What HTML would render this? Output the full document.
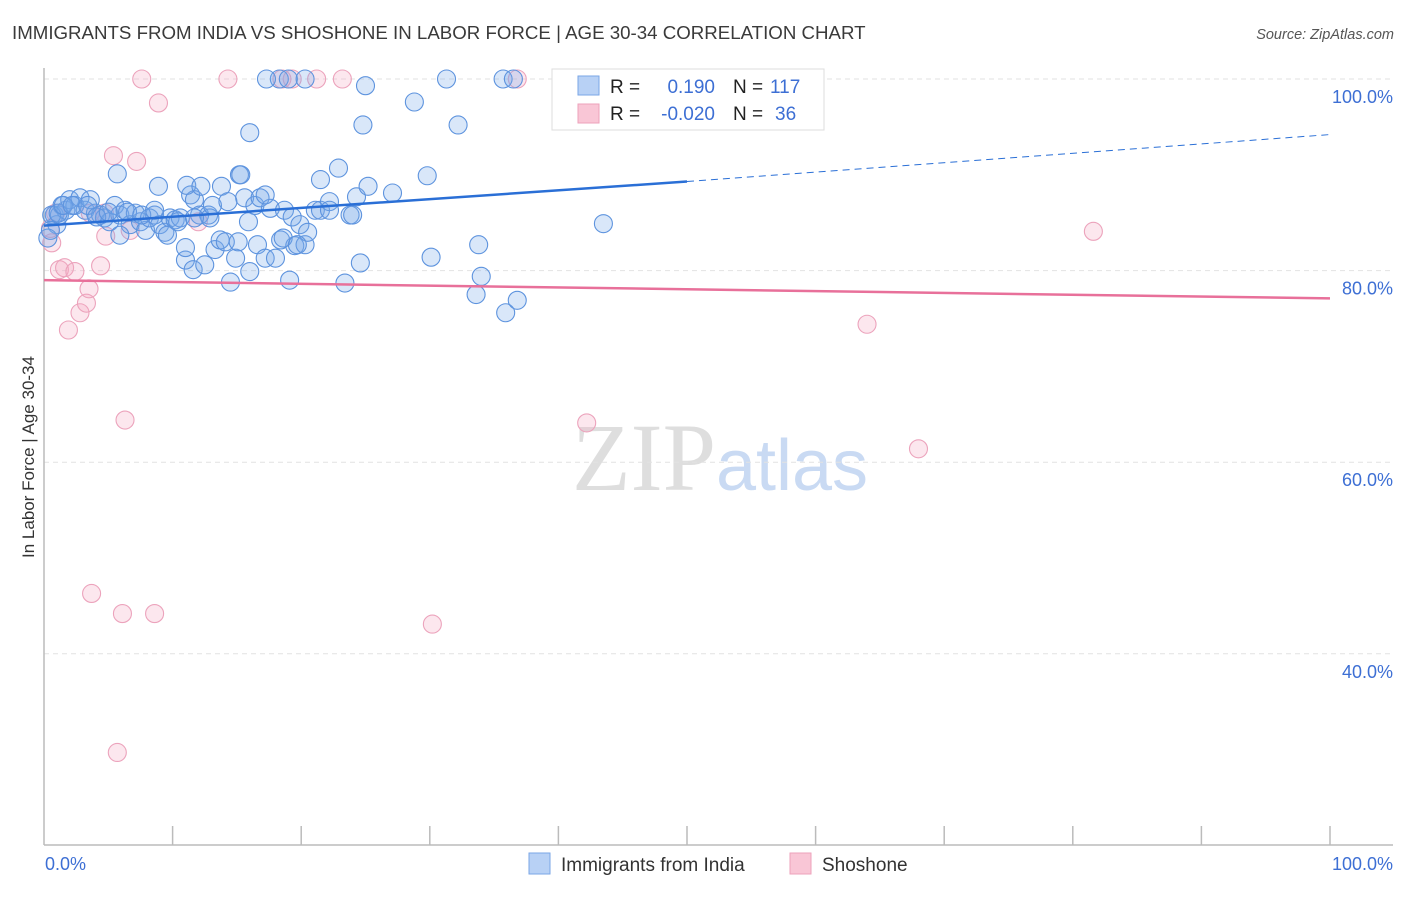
<!DOCTYPE html>
<html><head><meta charset="utf-8"><style>
body{margin:0;background:#fff;font-family:"Liberation Sans",sans-serif}
svg text{font-family:"Liberation Sans",sans-serif}
</style></head><body>
<svg id="chart" width="1406" height="892" viewBox="0 0 1406 892" xmlns="http://www.w3.org/2000/svg">
<text x="12" y="39" font-size="18.7" fill="#3a3a3a">IMMIGRANTS FROM INDIA VS SHOSHONE IN LABOR FORCE | AGE 30-34 CORRELATION CHART</text>
<text x="1394" y="39" font-size="14.5" fill="#555" text-anchor="end" font-style="italic">Source: ZipAtlas.com</text>
<text x="720" y="490" font-size="96" text-anchor="middle"><tspan fill="#dedede" font-family="Liberation Serif">ZIP</tspan><tspan fill="#c9daf3" font-size="72">atlas</tspan></text>
<g id="grid"></g>
<g id="axes"></g>
<g id="pts"></g>
<g id="trend"></g>
<text transform="translate(34,457) rotate(-90)" font-size="17" fill="#333" text-anchor="middle">In Labor Force | Age 30-34</text>
<g>
<rect x="552" y="69" width="272" height="61" fill="#fff" stroke="#ddd"/>
<rect x="578" y="76" width="21" height="19" fill="#b8d1f5" stroke="#7aa6e6"/>
<rect x="578" y="104" width="21" height="19" fill="#f9c6d6" stroke="#eda2bb"/>
<text x="610" y="93" font-size="19" fill="#222">R =</text>
<text x="715" y="93" font-size="19" fill="#3d6fd4" text-anchor="end">0.190</text>
<text x="733" y="93" font-size="19" fill="#222">N =</text>
<text x="770" y="93" font-size="19" fill="#3d6fd4">117</text>
<text x="610" y="120" font-size="19" fill="#222">R =</text>
<text x="715" y="120" font-size="19" fill="#3d6fd4" text-anchor="end">-0.020</text>
<text x="733" y="120" font-size="19" fill="#222">N =</text>
<text x="775" y="120" font-size="19" fill="#3d6fd4">36</text>
</g>
<g>
<rect x="529" y="853" width="21" height="21" fill="#b8d1f5" stroke="#7aa6e6"/>
<text x="561" y="871" font-size="19" fill="#333">Immigrants from India</text>
</g>
<g>
<rect x="790" y="853" width="21" height="21" fill="#f9c6d6" stroke="#eda2bb"/>
<text x="822" y="871" font-size="19" fill="#333">Shoshone</text>
</g>
</svg>
<script>
const yTicks=[100,80,60,40];
const yTickLabels=["100.0%","80.0%","60.0%","40.0%"];
const xTickLabels=["0.0%","100.0%"];
const blueX=[0.8,1.0,1.2,1.4,1.7,2.0,2.4,2.8,3.2,3.6,4.0,4.4,4.7,5.1,5.5,5.9,6.3,6.7,7.1,7.5,7.9,8.2,8.6,9.0,9.4,9.8,10.2,10.6,11.0,11.0,11.4,11.6,11.7,12.1,12.5,12.8,12.9,13.3,13.7,14.1,14.5,14.9,15.1,15.2,15.6,16.0,16.4,16.6,16.8,17.2,17.6,18.0,18.4,18.7,19.1,19.3,19.5,19.9,20.3,20.5,21.1,21.5,22.2,22.9,23.4,23.8,24.3,24.6,24.8,25.0,25.2,27.1,28.8,29.8,30.1,31.3,32.2,33.6,33.8,34.0,35.7,35.9,36.5,36.8,43.5,5.7,8.9,11.1,12.2,13.8,16.0,18.3,20.3,19.0,15.3,17.3,0.6,1.1,0.3,0.5,1.5,2.2,3.4,4.1,5.0,5.9,6.5,7.6,8.6,9.6,10.4,11.7,13.1,14.3,15.9,17.2,18.6,19.7,21.5,22.2,24.0];
const blueY=[85.8,84.8,85.8,86.8,86.3,87.4,86.8,87.6,86.3,87.4,86.0,85.8,85.5,85.1,86.8,85.8,86.3,84.8,86.0,85.1,84.2,85.5,85.8,84.8,84.0,85.5,85.3,85.5,81.1,82.4,87.9,80.1,87.4,85.8,80.6,85.8,85.5,82.2,83.2,83.0,78.8,81.3,83.0,90.0,87.6,79.9,86.8,82.7,87.6,81.3,86.5,81.3,83.2,86.3,79.0,85.6,82.6,84.8,82.7,84.0,86.3,86.3,87.2,90.7,78.7,85.8,87.7,80.8,95.2,99.3,88.8,88.1,97.6,89.9,81.4,100,95.2,77.5,82.7,79.4,100,75.6,100,76.9,84.9,90.1,88.8,88.9,88.8,88.8,94.4,100,100,100,90.0,100,85.8,86.0,83.4,84.2,86.8,86.8,86.8,85.6,86.1,83.7,86.1,85.8,86.3,83.7,85.1,85.5,86.8,87.2,85.1,87.9,83.4,82.7,89.5,86.3,85.8];
const pinkX=[0.6,0.5,0.9,1.2,1.6,1.9,2.4,2.8,3.3,3.5,4.4,4.8,5.4,6.3,6.7,7.2,7.6,8.9,8.6,5.7,3.7,6.1,12.0,14.3,18.5,19.3,21.2,23.2,30.2,36.8,42.2,64.0,68.0,81.6,4.7,3.6];
const pinkY=[82.9,84.4,86.0,80.1,80.3,73.8,79.9,75.6,76.6,78.1,80.5,83.6,92.0,64.4,84.2,91.4,100,97.5,44.2,29.7,46.3,44.2,85.1,100,100,100,100,100,43.1,100,64.1,74.4,61.4,84.1,86.0,86.0];
const blueTrend=[84.7,89.3,94.2];
const pinkTrend=[79.0,77.1];
const X0=44,X1=1330,Y100=79,PPU=9.58;
const xs=p=>X0+p*(X1-X0)/100;
const ys=v=>Y100+(100-v)*PPU;
const NS="http://www.w3.org/2000/svg";
function mk(tag,attrs,parent,txt){const e=document.createElementNS(NS,tag);for(const k in attrs)e.setAttribute(k,attrs[k]);if(txt!==undefined)e.textContent=txt;document.getElementById(parent).appendChild(e);return e;}
yTicks.forEach((t,i)=>{
 const g=mk('line',{x1:X0,x2:1393,y1:ys(t),y2:ys(t),stroke:'#e2e2e2','stroke-dasharray':'5,4'},'grid');
 
 
 const l=mk('text',{x:1393,y:ys(t)+24,'font-size':18,fill:'#3d6fd4','text-anchor':'end'},'axes',yTickLabels[i]);
 
 
});
const ax=mk('line',{x1:X0,x2:X0,y1:68,y2:845,stroke:'#bbb','stroke-width':1.5},'axes');


const bx=mk('line',{x1:X0,x2:1393,y1:845,y2:845,stroke:'#bbb','stroke-width':1.5},'axes');


for(let i=1;i<=10;i++){const t=mk('line',{x1:xs(i*10),x2:xs(i*10),y1:826,y2:845,stroke:'#bbb','stroke-width':1.5},'axes');
 
 }
const xl0=mk('text',{x:45,y:870,'font-size':18,fill:'#3d6fd4'},'axes',xTickLabels[0]);


const xl1=mk('text',{x:1393,y:870,'font-size':18,fill:'#3d6fd4','text-anchor':'end'},'axes',xTickLabels[1]);


pinkX.forEach((x,i)=>{const c=mk('circle',{cx:xs(x),cy:ys(pinkY[i]),r:9,fill:'rgba(245,170,195,0.28)',stroke:'#eca3bc','stroke-width':1.1},'pts');
 
 });
blueX.forEach((x,i)=>{const c=mk('circle',{cx:xs(x),cy:ys(blueY[i]),r:9,fill:'rgba(120,170,235,0.28)',stroke:'#5d93de','stroke-width':1.1},'pts');
 
 });
const b1=mk('line',{x1:xs(0),y1:ys(blueTrend[0]),x2:xs(50),y2:ys(blueTrend[1]),stroke:'#2a6fd6','stroke-width':2.5},'trend');


const b2=mk('line',{x1:xs(50),y1:ys(blueTrend[1]),x2:xs(100),y2:ys(blueTrend[2]),stroke:'#2a6fd6','stroke-width':1,'stroke-dasharray':'7,5'},'trend');


const p1=mk('line',{x1:xs(0),y1:ys(pinkTrend[0]),x2:xs(100),y2:ys(pinkTrend[1]),stroke:'#e8709a','stroke-width':2.5},'trend');


</script>
</body></html>
